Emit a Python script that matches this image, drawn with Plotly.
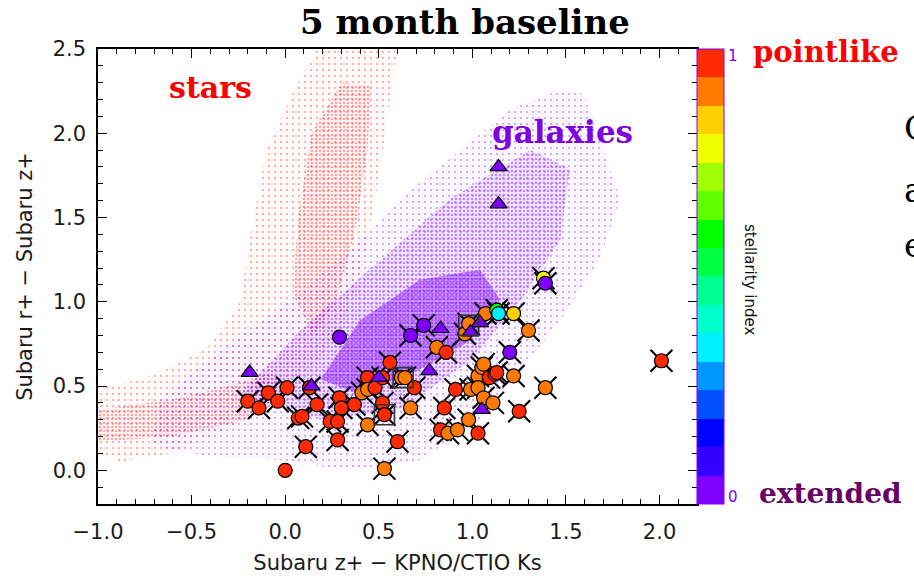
import plotly.graph_objects as go

# ---------------- data ----------------
# background loci (outline polygons, data coords)
star_outer_x = [-1.0, -1.0, -0.72, -0.42, -0.24, -0.18, -0.10, 0.05, 0.17, 0.60, 0.56, 0.50, 0.42, 0.32, 0.16, -0.03, -0.29, -0.61, -0.88]
star_outer_y = [0.10, 0.48, 0.56, 0.72, 1.00, 1.43, 1.90, 2.26, 2.50, 2.50, 2.20, 1.73, 1.25, 0.89, 0.62, 0.44, 0.26, 0.10, 0.05]
star_core_x = [0.04, 0.07, 0.14, 0.30, 0.46, 0.44, 0.37, 0.27, 0.15]
star_core_y = [1.05, 1.50, 2.00, 2.30, 2.28, 1.90, 1.40, 1.00, 0.80]
star_tail_x = [-1.0, -1.0, -0.6, -0.3, -0.08, 0.02, -0.2, -0.6]
star_tail_y = [0.17, 0.36, 0.42, 0.50, 0.58, 0.45, 0.30, 0.20]

gal_outer_x = [-0.72, -0.67, -0.35, 0.03, 0.35, 0.61, 0.88, 1.20, 1.47, 1.60, 1.68, 1.79, 1.68, 1.47, 1.26, 1.04, 0.72, 0.35, -0.03, -0.45]
gal_outer_y = [0.15, 0.42, 0.71, 1.01, 1.31, 1.61, 1.85, 2.14, 2.26, 2.23, 1.96, 1.61, 1.25, 0.89, 0.60, 0.30, 0.06, 0.00, 0.06, 0.09]
gal_mid_x = [-0.24, 0.08, 0.51, 0.88, 1.31, 1.52, 1.47, 1.26, 0.99, 0.61, 0.19]
gal_mid_y = [0.45, 0.83, 1.25, 1.61, 1.90, 1.79, 1.37, 1.01, 0.65, 0.36, 0.30]
gal_core_x = [0.19, 0.40, 0.72, 1.04, 1.15, 0.99, 0.72, 0.40]
gal_core_y = [0.54, 0.89, 1.13, 1.19, 1.01, 0.77, 0.60, 0.45]

# variable sources: circles (colour = stellarity index), cross = flagged
circ_x = [-0.20, -0.14, -0.09, -0.04, 0.01, 0.13, 0.17, 0.07, 0.09, 0.11, 0.00, 0.29,
          0.29, 0.30, 0.24, 0.28, 0.28, 0.37, 0.44, 0.41, 0.44, 0.48, 0.52, 0.52,
          0.53, 0.56, 0.62, 0.64, 0.44, 0.60, 0.53, 0.69, 0.67, 0.67, 0.74, 0.81,
          0.86, 0.96, 0.98, 1.07, 1.13, 1.14, 1.22, 1.30, 1.20, 0.91, 1.03, 1.05,
          1.06, 1.09, 1.12, 1.13, 1.22, 0.99, 1.03, 1.06, 1.11, 0.85, 0.98, 0.83,
          0.87, 0.92, 1.03, 1.25, 1.38, 1.39, 2.01, 1.39]
circ_y = [0.41, 0.37, 0.46, 0.41, 0.49, 0.49, 0.39, 0.31, 0.32, 0.14, 0.00, 0.79,
          0.43, 0.37, 0.29, 0.29, 0.18, 0.39, 0.55, 0.46, 0.48, 0.49, 0.55, 0.40,
          0.33, 0.64, 0.55, 0.55, 0.27, 0.17, 0.01, 0.49, 0.37, 0.80, 0.86, 0.73,
          0.70, 0.81, 0.87, 0.93, 0.95, 0.93, 0.93, 0.83, 0.70, 0.48, 0.56, 0.61,
          0.63, 0.55, 0.57, 0.58, 0.56, 0.48, 0.49, 0.43, 0.40, 0.37, 0.30, 0.24,
          0.22, 0.24, 0.22, 0.35, 1.14, 1.11, 0.65, 0.49]
circ_s = [0.98, 0.98, 0.98, 0.98, 0.98, 0.98, 0.98, 0.98, 0.98, 0.98, 0.98, 0.02,
          0.98, 0.98, 0.98, 0.98, 0.98, 0.98, 0.98, 0.90, 0.90, 0.96, 0.98, 0.98,
          0.98, 0.98, 0.90, 0.90, 0.90, 0.98, 0.90, 0.98, 0.90, 0.02, 0.02, 0.90,
          0.98, 0.90, 0.90, 0.90, 0.58, 0.34, 0.85, 0.90, 0.02, 0.98, 0.90, 0.90,
          0.90, 0.98, 0.98, 0.98, 0.90, 0.90, 0.90, 0.90, 0.90, 0.98, 0.90, 0.98,
          0.90, 0.90, 0.98, 0.98, 0.78, 0.02, 0.98, 0.90]
circ_cross = [True] * 10 + [False, False] + [True] * 56

tri_x = [-0.19, 0.14, 0.50, 0.77, 0.83, 0.99, 1.04, 1.05, 1.14, 1.14]
tri_y = [0.58, 0.50, 0.55, 0.59, 0.84, 0.82, 0.875, 0.36, 1.80, 1.58]
tri_s = [0.02] * 10

box_x = [0.53, 0.63, 0.98]
box_y = [0.33, 0.55, 0.86]

x_ticks = [-1.0, -0.5, 0.0, 0.5, 1.0, 1.5, 2.0]
y_ticks = [0.0, 0.5, 1.0, 1.5, 2.0, 2.5]

# ---------------- styling ----------------
bins = ["#7F00FF", "#3300FF", "#0000FF", "#0050FF", "#0096FF", "#00F0FF", "#00FFCC", "#00FF90",
        "#00FF40", "#00FF00", "#60FF00", "#A0FF00", "#F0FF00", "#FFD000", "#FF7A00", "#FF2A00"]
n = len(bins)
cscale = []
for i, c in enumerate(bins):
    cscale.append([i / n, c])
    cscale.append([(i + 1) / n, c])

fig = go.Figure()

def cloud(xs, ys, col, bg, size, sol):
    fig.add_trace(go.Scatter(
        x=xs + xs[:1], y=ys + ys[:1], mode="lines", fill="toself",
        line=dict(width=0, color="rgba(0,0,0,0)"), fillcolor=bg,
        fillpattern=dict(shape=".", fgcolor=col, bgcolor=bg, size=size, solidity=sol),
        hoverinfo="skip", showlegend=False))

cloud(star_outer_x, star_outer_y, "#FF3030", "rgba(255,0,0,0.015)", 6, 0.09)
cloud(star_core_x, star_core_y, "#FF1010", "rgba(255,0,0,0.05)", 4, 0.18)
cloud(star_tail_x, star_tail_y, "#FF1010", "rgba(255,0,0,0.04)", 4, 0.17)
cloud(gal_outer_x, gal_outer_y, "#9040FF", "rgba(128,0,255,0.03)", 6, 0.10)
cloud(gal_mid_x, gal_mid_y, "#8000FF", "rgba(128,0,255,0.10)", 4, 0.22)
cloud(gal_core_x, gal_core_y, "#8000FF", "rgba(128,0,255,0.30)", 3, 0.38)

cx = [x for x, c in zip(circ_x, circ_cross) if c]
cy = [y for y, c in zip(circ_y, circ_cross) if c]
fig.add_trace(go.Scatter(
    x=cx, y=cy, mode="markers",
    marker=dict(symbol="x-thin", size=22, line=dict(width=2, color="black")),
    hoverinfo="skip", showlegend=False))

fig.add_trace(go.Scatter(
    x=circ_x, y=circ_y, mode="markers",
    marker=dict(symbol="circle", size=14, color=circ_s, colorscale=cscale, cmin=0, cmax=1,
                line=dict(width=1.2, color="black"),
                colorbar=dict(
                    xref="container", x=697 / 914, xanchor="left", xpad=0, ypad=0,
                    yref="paper", y=0.5, yanchor="middle", len=1, lenmode="fraction",
                    thickness=27, thicknessmode="pixels",
                    outlinecolor="#8000FF", outlinewidth=1,
                    tickvals=[0.015, 0.985], ticktext=["0", "1"], ticks="",
                    tickfont=dict(family="DejaVu Sans", size=15, color="#8000FF"))),
    showlegend=False))

fig.add_trace(go.Scatter(
    x=tri_x, y=tri_y, mode="markers",
    marker=dict(symbol="triangle-up", size=15, color=tri_s, colorscale=cscale, cmin=0, cmax=1,
                line=dict(width=1.2, color="black")),
    showlegend=False))

fig.add_trace(go.Scatter(
    x=box_x, y=box_y, mode="markers",
    marker=dict(symbol="square-open", size=20, color="#333333", line=dict(width=1.6)),
    showlegend=False))

axfont = dict(family="DejaVu Sans", size=21, color="#1a1a1a")
common = dict(showgrid=False, zeroline=False, showline=True, linecolor="black", linewidth=1.5,
              mirror="ticks", ticks="inside", ticklen=9, tickwidth=1.3, tickcolor="black",
              tickfont=axfont, tickformat=".1f",
              minor=dict(ticks="inside", ticklen=5, tickwidth=1, tickcolor="black", dtick=0.1))

fig.update_xaxes(range=[-1.0, 2.2], tickvals=x_ticks, ticklabelstandoff=8,
                 title=dict(text="Subaru z+ \u2212 KPNO/CTIO Ks", font=axfont, standoff=12), **common)
fig.update_yaxes(range=[-0.2, 2.5], tickvals=y_ticks, ticklabelstandoff=6,
                 title=dict(text="Subaru r+ \u2212 Subaru z+", font=axfont, standoff=14), **common)

serif = "DejaVu Serif"
ann = [
    dict(text="<b>5 month baseline</b>", xref="paper", yref="paper", x=(465 - 98) / 599, y=(504 - 22) / 455,
         font=dict(family=serif, size=34, color="black")),
    dict(text="<b>stars</b>", xref="x", yref="y", x=-0.40, y=2.27,
         font=dict(family=serif, size=30, color="#FF0000")),
    dict(text="<b>galaxies</b>", xref="x", yref="y", x=1.48, y=2.01,
         font=dict(family=serif, size=31, color="#8000E0")),
    dict(text="<b>pointlike</b>", xref="paper", yref="paper", x=(751 - 98) / 599, xanchor="left",
         y=(504 - 52) / 455, font=dict(family=serif, size=29, color="#FF0000")),
    dict(text="<b>extended</b>", xref="paper", yref="paper", x=(757 - 98) / 599, xanchor="left",
         y=(504 - 493) / 455, font=dict(family=serif, size=28, color="#660066")),
    dict(text="stellarity index", xref="paper", yref="paper", x=(750 - 98) / 599, y=(504 - 279) / 455,
         textangle=90, font=dict(family="DejaVu Sans", size=15, color="#111111")),
    dict(text="C", xref="paper", yref="paper", x=(902 - 98) / 599, xanchor="left", y=(504 - 128) / 455,
         font=dict(family=serif, size=34, color="black")),
    dict(text="a", xref="paper", yref="paper", x=(902 - 98) / 599, xanchor="left", y=(504 - 190) / 455,
         font=dict(family=serif, size=34, color="black")),
    dict(text="e", xref="paper", yref="paper", x=(902 - 98) / 599, xanchor="left", y=(504 - 245) / 455,
         font=dict(family=serif, size=34, color="black")),
]
for a in ann:
    a.setdefault("showarrow", False)
    a.setdefault("xanchor", "center")
    a.setdefault("yanchor", "middle")
fig.update_layout(annotations=ann)

fig.update_layout(width=914, height=579,
                  margin=dict(l=98, r=217, t=49, b=75, autoexpand=False),
                  paper_bgcolor="white", plot_bgcolor="white", showlegend=False)

fig.write_html("out.html")
